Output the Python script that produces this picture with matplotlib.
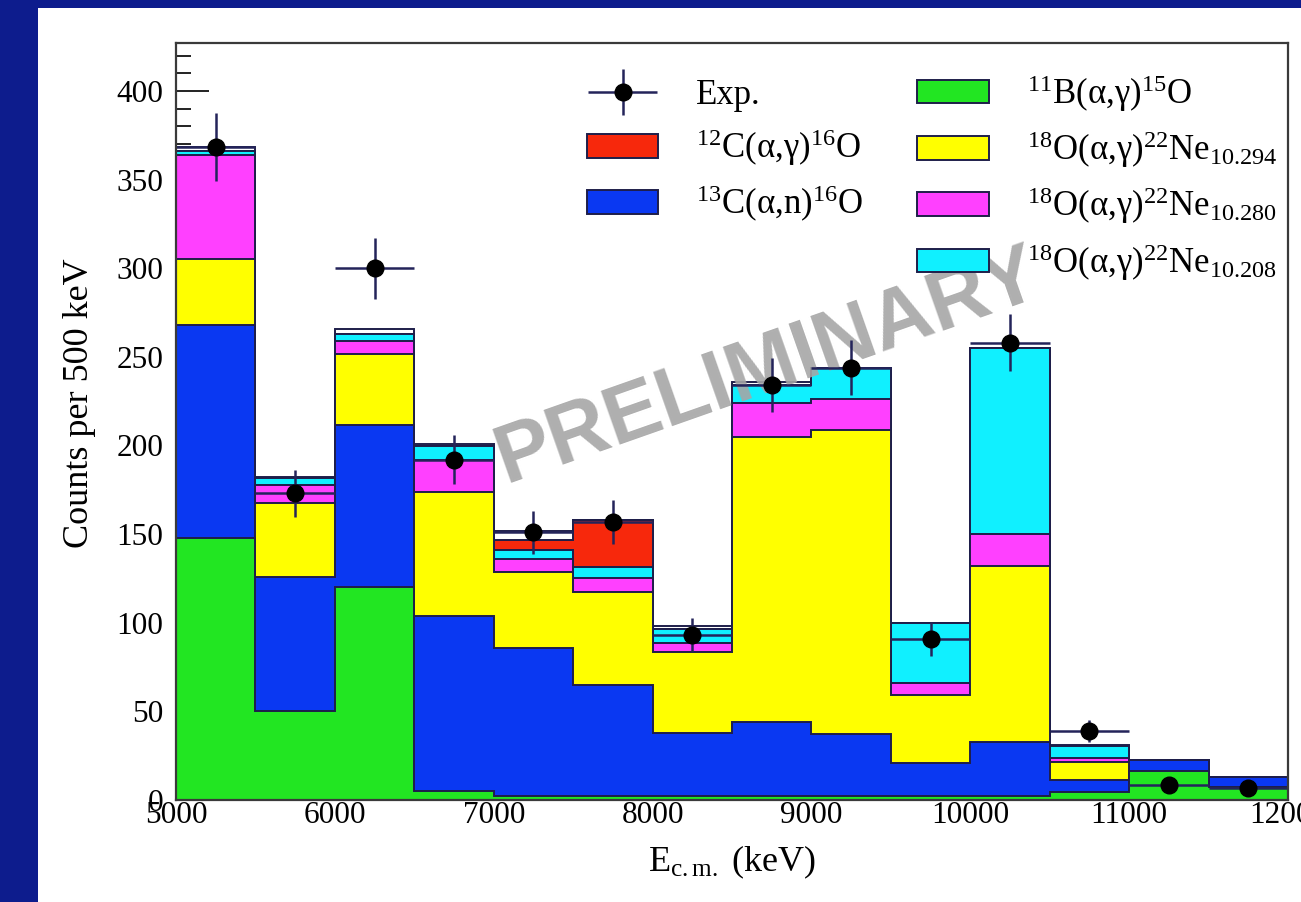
import numpy as np
import matplotlib
matplotlib.use("Agg")
import matplotlib.pyplot as plt
from matplotlib.patches import Rectangle, Patch
from matplotlib.ticker import MultipleLocator
from matplotlib.legend_handler import HandlerErrorbar

plt.rcParams['font.family'] = ['Liberation Serif', 'DejaVu Serif']
plt.rcParams['mathtext.fontset'] = 'custom'
plt.rcParams['mathtext.rm'] = 'Liberation Serif'
plt.rcParams['mathtext.it'] = 'Liberation Serif:italic'
plt.rcParams['mathtext.default'] = 'regular'

# ---- data: counts per 500 keV bin, 5000-12000 keV ----
bin_edges = np.arange(5000, 12001, 500)
bin_centers = bin_edges[:-1] + 250

b11_ag = [148, 50, 120, 5, 2, 2, 2, 2, 2, 2, 2.5, 4.5, 16.4, 7.3]
c13_an = [120, 76, 91.5, 99, 83.5, 63, 36, 42, 35.5, 19, 30, 7, 6.2, 5.8]
o18_10294 = [37, 41.5, 40, 70, 43.2, 52.5, 45.5, 161, 171, 38, 99.3, 10, 0, 0]
o18_10280 = [59, 10, 7.5, 18, 7, 7.5, 5, 19, 18, 7, 18, 2, 0, 0]
o18_10208 = [2, 4, 4, 7.5, 5.6, 6.7, 8, 10, 17, 33.7, 105, 7, 0, 0]
c12_ag = [0, 0, 0, 0, 5.6, 26.3, 0, 0, 0, 0, 0, 0, 0, 0]
unassigned = [2.5, 1, 3, 1.5, 5, 0, 1.5, 2, 0.5, 0, 0, 0.5, 0, 0]

exp_counts = [368.5, 173, 300, 192, 151, 157, 93, 234, 244, 91, 258, 39, 8.5, 6.8]

tick_labels_x = ['5000', '6000', '7000', '8000', '9000', '10000', '11000', '12000']

labels = {
    'exp': 'Exp.',
    'c12': r'$^{12}$C(α,γ)$^{16}$O',
    'c13': r'$^{13}$C(α,n)$^{16}$O',
    'b11': r'$^{11}$B(α,γ)$^{15}$O',
    'o294': r'$^{18}$O(α,γ)$^{22}$Ne$_{10.294}$',
    'o280': r'$^{18}$O(α,γ)$^{22}$Ne$_{10.280}$',
    'o208': r'$^{18}$O(α,γ)$^{22}$Ne$_{10.208}$',
}

# ---- styling ----
W, H = 1301, 902
slide_blue = '#0d1c8d'
line_col = '#1e1e4a'
fills = {
    'b11': '#22e622',
    'c13': '#0a38f2',
    'o294': '#ffff00',
    'o280': '#ff40ff',
    'o208': '#10f0ff',
    'c12': '#f7280c',
    'rest': '#ffffff',
}

fig = plt.figure(figsize=(W / 100, H / 100), dpi=100, facecolor=slide_blue)

# white panel behind the plot
panel = fig.add_axes([38 / W, 0, 1 - 38 / W, (H - 8) / H], zorder=-5)
panel.set_axis_off()
panel.add_patch(Rectangle((0, 0), 1, 1, transform=panel.transAxes,
                          facecolor='white', edgecolor='none'))

ax_l, ax_r, ax_t, ax_b = 176, 1288, 43, 800
ax = fig.add_axes([ax_l / W, (H - ax_b) / H, (ax_r - ax_l) / W, (ax_b - ax_t) / H])
ax.set_facecolor('white')

# stacked components, bottom to top
layers = [
    (b11_ag, 'b11'),
    (c13_an, 'c13'),
    (o18_10294, 'o294'),
    (o18_10280, 'o280'),
    (o18_10208, 'o208'),
    (c12_ag, 'c12'),
    (unassigned, 'rest'),
]
cums = np.cumsum([np.asarray(v, float) for v, _ in layers], axis=0)

# draw the highest cumulative first so lower layers sit on top of it
for k in range(len(layers) - 1, -1, -1):
    key = layers[k][1]
    ax.stairs(cums[k], bin_edges, baseline=0, fill=True,
              facecolor=fills[key], edgecolor=line_col, linewidth=1.4,
              zorder=2 + (len(layers) - k) * 0.01)

exp_arr = np.asarray(exp_counts, float)
eb = ax.errorbar(bin_centers, exp_arr, xerr=250, yerr=np.sqrt(exp_arr), fmt='o',
                 color='black', ecolor='#24245a', elinewidth=1.8, markersize=12,
                 capsize=0, zorder=10)

ax.text(0.532, 0.572, 'PRELIMINARY', transform=ax.transAxes, rotation=19.4,
        ha='center', va='center', fontsize=60, fontweight='bold',
        family='Liberation Sans', color='#a6a6a6', alpha=0.9, zorder=8)

ax.set_xlim(5000, 12000)
ax.set_ylim(0, (ax_b - ax_t) / 1.7725)
ax.xaxis.set_major_locator(MultipleLocator(1000))
ax.xaxis.set_minor_locator(MultipleLocator(200))
ax.yaxis.set_major_locator(MultipleLocator(50))
ax.yaxis.set_minor_locator(MultipleLocator(10))
ax.set_xticks(np.arange(5000, 12001, 1000))
ax.set_xticklabels(tick_labels_x)

ax.tick_params(axis='y', which='major', direction='in', length=23.5, width=1.4,
               color='#222222', labelsize=22.5, pad=9)
ax.tick_params(axis='y', which='minor', direction='in', length=10.5, width=1.4, color='#222222')
ax.tick_params(axis='x', which='major', direction='in', length=14, width=1.4,
               color='#222222', labelsize=22.5, pad=1)
ax.tick_params(axis='x', which='minor', direction='in', length=7, width=1.4, color='#222222')
ax.tick_params(top=False, right=False, which='both')
for s in ax.spines.values():
    s.set_color('#3a3a3a')
    s.set_linewidth(1.6)
    s.set_zorder(12)

ax.set_ylabel('Counts per 500 keV', fontsize=26)
ax.yaxis.set_label_coords((80 - ax_l) / (ax_r - ax_l), (ax_b - 403) / (ax_b - ax_t))
ax.yaxis.label.set_va('center')
ax.set_xlabel(r'E$_{c.m.}$ (keV)', fontsize=26)
ax.xaxis.set_label_coords(0.5, -0.058)

def box(key):
    return Patch(facecolor=fills[key], edgecolor=line_col, linewidth=1.4)

handles = [eb, box('c12'), box('c13'), Patch(facecolor='none', edgecolor='none'),
           box('b11'), box('o294'), box('o280'), box('o208')]
texts = [labels['exp'], labels['c12'], labels['c13'], '',
         labels['b11'], labels['o294'], labels['o280'], labels['o208']]
leg = ax.legend(handles, texts, ncol=2, loc='upper left',
                bbox_to_anchor=(587 / W, (H - 73) / H), bbox_transform=fig.transFigure,
                frameon=False, fontsize=25, borderpad=0, handlelength=2.05,
                handleheight=0.68, handletextpad=1.1, labelspacing=0.45,
                columnspacing=1.55, borderaxespad=0,
                handler_map={eb: HandlerErrorbar(xerr_size=1.0, yerr_size=0.66)})
leg.set_zorder(11)

fig.savefig('out.png', dpi=100, facecolor=fig.get_facecolor())
